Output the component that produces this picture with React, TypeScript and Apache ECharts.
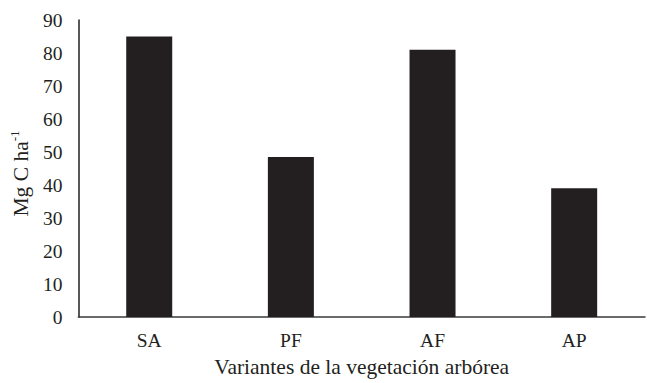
import React, { useEffect, useRef } from "react";
import * as echarts from "echarts";

const categories = ["SA", "PF", "AF", "AP"];
const values = [85, 48.5, 81, 39];
const yTicks = { min: 0, max: 90, interval: 10 };
const yName = "Mg C ha";
const yNameSup = "-1";
const xName = "Variantes de la vegetación arbórea";

const FONT = "'Liberation Serif', 'Times New Roman', serif";

export default function App() {
  const ref = useRef<HTMLDivElement>(null);
  useEffect(() => {
    document.body.style.margin = "0";
    const chart = echarts.init(ref.current!, null, { renderer: "svg" });
    chart.setOption({
      animation: false,
      backgroundColor: "#ffffff",
      grid: { left: 74.5, right: 2, top: 20, bottom: 62, containLabel: false },
      xAxis: {
        type: "category",
        data: categories,
        axisLine: { show: true, lineStyle: { color: "#3a3a3a", width: 1.5 } },
        axisTick: { show: false },
        axisLabel: { color: "#231f20", fontFamily: FONT, fontSize: 19.5, margin: 13 },
        name: xName,
        nameLocation: "middle",
        nameGap: 39,
        nameTextStyle: { color: "#231f20", fontFamily: FONT, fontSize: 21.5 },
      },
      yAxis: {
        type: "value",
        min: yTicks.min,
        max: yTicks.max,
        interval: yTicks.interval,
        axisLine: { show: true, lineStyle: { color: "#231f20", width: 1.5 } },
        axisTick: { show: false },
        splitLine: { show: false },
        axisLabel: { color: "#231f20", fontFamily: FONT, fontSize: 19.5, margin: 16 },
        name: `{a|${yName}}{b|${yNameSup}}`,
        nameLocation: "middle",
        nameGap: 40,
        nameTextStyle: {
          color: "#231f20",
          fontFamily: FONT,
          padding: [0, 10, 0, 0],
          rich: {
            a: { fontFamily: FONT, fontSize: 21.5, color: "#231f20", lineHeight: 26 },
            b: { fontFamily: FONT, fontSize: 13, color: "#231f20", verticalAlign: "top", lineHeight: 26 },
          },
        },
      },
      series: [
        {
          type: "bar",
          data: values,
          barWidth: 46,
          itemStyle: { color: "#231f20" },
        },
      ],
    });
    return () => chart.dispose();
  }, []);
  return <div ref={ref} style={{ width: 647, height: 383 }} />;
}
